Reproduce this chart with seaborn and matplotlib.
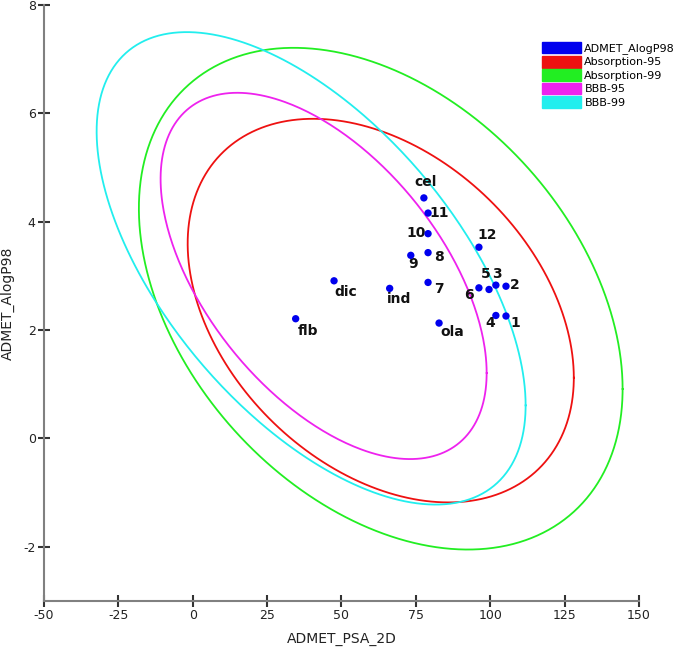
import numpy as np
import pandas as pd
import matplotlib
matplotlib.use("Agg")
import matplotlib.pyplot as plt
from matplotlib.patches import Patch
import seaborn as sns

plt.rcParams["axes.unicode_minus"] = False

# compounds (PSA_2D vs AlogP98)
names = ["cel", "11", "10", "8", "9", "7", "ind", "dic", "flb", "ola",
         "12", "6", "5", "3", "2", "4", "1"]
psa = [77.7, 79.1, 79.1, 79.1, 73.3, 79.1, 66.2, 47.5, 34.6, 82.8,
       96.2, 96.2, 99.6, 101.9, 105.3, 101.9, 105.3]
alogp = [4.44, 4.16, 3.78, 3.43, 3.38, 2.88, 2.77, 2.91, 2.21, 2.13,
         3.53, 2.78, 2.75, 2.83, 2.81, 2.27, 2.26]

# ellipses: centre, half-width (PSA), half-height (AlogP), correlation
ell_names = ["Absorption-95", "Absorption-99", "BBB-95", "BBB-99"]
ell_cx = [63.2, 63.2, 44.0, 39.8]
ell_cy = [2.36, 2.58, 3.00, 3.14]
ell_sx = [64.9, 81.3, 54.8, 72.1]
ell_sy = [3.54, 4.63, 3.38, 4.36]
ell_rho = [-0.35, -0.36, -0.53, -0.58]
ell_colors = ["#ee1111", "#22ee22", "#ee22ee", "#22eeee"]

# label offsets in pixels
offs = {"cel": (2, 16), "11": (11, 0), "10": (-12, 1), "8": (11, -4), "9": (2, -9),
        "7": (11, -7), "ind": (9, -11), "dic": (12, -11), "flb": (12, -12),
        "ola": (13, -9), "12": (8, 12), "6": (-10, -7), "5": (-3, 15),
        "3": (1, 11), "2": (9, 1), "4": (-6, -8), "1": (9, -7)}

rows = []
t = np.linspace(0, 2 * np.pi, 400)
for n, cx, cy, sx, sy, r in zip(ell_names, ell_cx, ell_cy, ell_sx, ell_sy, ell_rho):
    cov = np.array([[sx**2, r * sx * sy], [r * sx * sy, sy**2]])
    L = np.linalg.cholesky(cov)
    xy = L @ np.vstack([np.cos(t), np.sin(t)])
    for i in range(len(t)):
        rows.append((n, i, cx + xy[0, i], cy + xy[1, i]))
ell = pd.DataFrame(rows, columns=["name", "i", "x", "y"])

fig = plt.figure(figsize=(6.85, 6.52), dpi=100)
ax = fig.add_axes([0.0642, 0.0782, 0.8686, 0.9141])

for n, c in zip(ell_names, ell_colors):
    sns.lineplot(data=ell[ell["name"] == n], x="x", y="y", sort=False,
                 estimator=None, color=c, lw=1.3, ax=ax)

pts = pd.DataFrame({"name": names, "x": psa, "y": alogp})
sns.scatterplot(data=pts, x="x", y="y", color="#0000ee", s=28,
                edgecolor="none", ax=ax, zorder=5)

for n, x, y in zip(names, psa, alogp):
    dx, dy = offs[n]
    ax.annotate(n, (x, y), xytext=(dx, dy), textcoords="offset pixels",
                ha="center", va="center", fontsize=10, fontweight="bold", color="#111111")

ax.set_xlim(-50, 150)
ax.set_ylim(-3, 8)
ax.set_xticks(np.arange(-50, 151, 25))
ax.set_yticks(np.arange(-2, 9, 2))
for s in ["top", "right"]:
    ax.spines[s].set_visible(False)
for s in ["left", "bottom"]:
    ax.spines[s].set_color("#808080")
    ax.spines[s].set_linewidth(1.5)
ax.tick_params(direction="inout", length=8, width=1.5, color="#333333",
               labelsize=9, labelcolor="#222222", pad=2)
ax.set_xlabel("ADMET_PSA_2D", fontsize=10, color="#222222")
ax.set_ylabel("ADMET_AlogP98", fontsize=10, color="#222222")
ax.xaxis.set_label_coords(0.5, -0.052)
ax.yaxis.set_label_coords(-0.049, 0.5)

handles = [Patch(color="#0000ee", label="ADMET_AlogP98")] + \
          [Patch(color=c, label=n) for n, c in zip(ell_names, ell_colors)]
fig.legend(handles=handles, loc="upper left", bbox_to_anchor=(0.785, 0.943),
           frameon=False, fontsize=8, handlelength=3.5, handleheight=1.25,
           handletextpad=0.3, labelspacing=0.15, borderaxespad=0)

fig.savefig("out.png", dpi=100)
